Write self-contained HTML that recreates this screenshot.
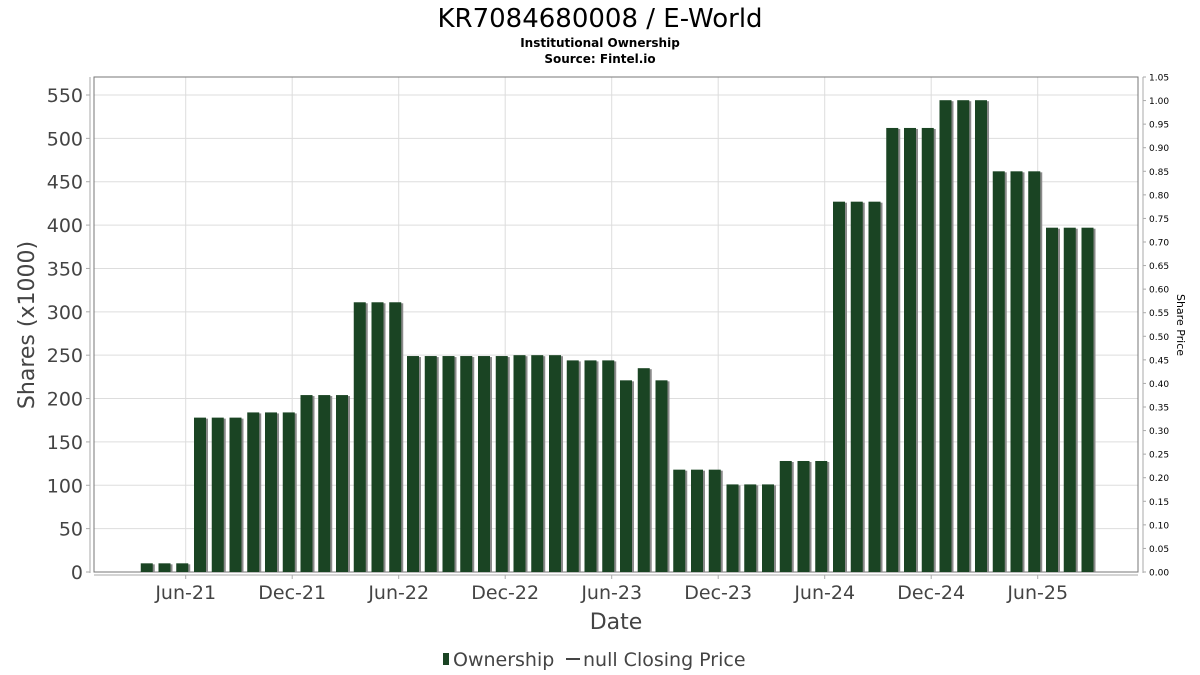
<!DOCTYPE html>
<html><head><meta charset="utf-8"><style>
body{margin:0;background:#fff;}
svg{display:block;font-family:"DejaVu Sans","Liberation Sans",sans-serif;}
</style></head><body>
<svg id="chart" width="1200" height="675" viewBox="0 0 1200 675" xmlns="http://www.w3.org/2000/svg">
<rect width="1200" height="675" fill="#fff"/>
<text x="600" y="27" text-anchor="middle" font-size="26" fill="#000">KR7084680008 / E-World</text>
<text x="600" y="47" text-anchor="middle" font-size="12" font-weight="bold" fill="#000">Institutional Ownership</text>
<text x="600" y="63" text-anchor="middle" font-size="12" font-weight="bold" fill="#000">Source: Fintel.io</text>
<g id="grid"></g>
<rect x="94" y="77" width="1044" height="495" fill="none" stroke="#777" stroke-width="1"/>
<line x1="90" y1="77" x2="90" y2="573" stroke="#aaa"/>
<line x1="1143" y1="77" x2="1143" y2="573" stroke="#aaa"/>
<line x1="94" y1="575" x2="1138" y2="575" stroke="#aaa"/>
<g id="bars"></g>
<g id="axes"></g>
<text transform="translate(34,325) rotate(-90)" text-anchor="middle" font-size="22" fill="#444">Shares (x1000)</text>
<text transform="translate(1177,325) rotate(90)" text-anchor="middle" font-size="11" fill="#000">Share Price</text>
<text x="616" y="629" text-anchor="middle" font-size="22" fill="#444">Date</text>
<g>
<rect x="443" y="653" width="6" height="12" fill="#1a4423"/>
<text x="453" y="666" font-size="19" fill="#444">Ownership</text>
<line x1="566" y1="659" x2="580" y2="659" stroke="#444" stroke-width="2"/>
<text x="583" y="666" font-size="19" fill="#444">null Closing Price</text>
</g>
</svg>
<script>
const months = ["2021-03","2021-04","2021-05","2021-06","2021-07","2021-08","2021-09","2021-10","2021-11","2021-12","2022-01","2022-02","2022-03","2022-04","2022-05","2022-06","2022-07","2022-08","2022-09","2022-10","2022-11","2022-12","2023-01","2023-02","2023-03","2023-04","2023-05","2023-06","2023-07","2023-08","2023-09","2023-10","2023-11","2023-12","2024-01","2024-02","2024-03","2024-04","2024-05","2024-06","2024-07","2024-08","2024-09","2024-10","2024-11","2024-12","2025-01","2025-02","2025-03","2025-04","2025-05","2025-06","2025-07","2025-08"];
const ownership = [10,10,10,178,178,178,184,184,184,204,204,204,311,311,311,249,249,249,249,249,249,250,250,250,244,244,244,221,235,221,118,118,118,101,101,101,128,128,128,427,427,427,512,512,512,544,544,544,462,462,462,397,397,397];
const leftTicks = [0,50,100,150,200,250,300,350,400,450,500,550];
const rightTicks = [0,0.05,0.1,0.15,0.2,0.25,0.3,0.35,0.4,0.45,0.5,0.55,0.6,0.65,0.7,0.75,0.8,0.85,0.9,0.95,1.0,1.05];
const xTickLabels = ["Jun-21","Dec-21","Jun-22","Dec-22","Jun-23","Dec-23","Jun-24","Dec-24","Jun-25"];
const xTickMonths = ["2021-06","2021-12","2022-06","2022-12","2023-06","2023-12","2024-06","2024-12","2025-06"];

const NS="http://www.w3.org/2000/svg";
const Y0=572, YTOP=77;
function yL(v){return Y0 - v*(477/550);}
function yR(v){return Y0 - v*((Y0-YTOP)/1.05);}
function mIdx(s){const [y,m]=s.split("-").map(Number);return (y-2021)*12+(m-6);}
function xM(s){return 185.7 + mIdx(s)*17.75;}
function mk(tag,attrs,parent){const e=document.createElementNS(NS,tag);for(const k in attrs)e.setAttribute(k,attrs[k]);parent.appendChild(e);return e;}
const grid=document.getElementById("grid"), bars=document.getElementById("bars"), axes=document.getElementById("axes");

leftTicks.forEach(v=>{
  const y=yL(v);
  if(v>0){const g=mk("line",{x1:94,x2:1138,y1:y,y2:y,stroke:"#ddd"},grid);
  
  }
  const t=mk("line",{x1:86,x2:90,y1:y,y2:y,stroke:"#aaa"},axes);
  
  
  const l=mk("text",{x:83,y:y+7,"text-anchor":"end","font-size":19,fill:"#444"},axes);
  l.textContent=v;
  
  
});
rightTicks.forEach(v=>{
  const y=yR(v);
  const t=mk("line",{x1:1143,x2:1146,y1:y,y2:y,stroke:"#aaa"},axes);
  
  
  const l=mk("text",{x:1149,y:y+3.5,"font-size":9,fill:"#000"},axes);
  l.textContent=v.toFixed(2);
  
  
});
xTickMonths.forEach((m,i)=>{
  const x=xM(m);
  const g=mk("line",{x1:x,x2:x,y1:77,y2:572,stroke:"#ddd"},grid);
  
  
  const t=mk("line",{x1:x,x2:x,y1:575,y2:579,stroke:"#aaa"},axes);
  
  
  const l=mk("text",{x:x,y:599,"text-anchor":"middle","font-size":19,fill:"#444"},axes);
  l.textContent=xTickLabels[i];
  
  
});
months.forEach((m,i)=>{
  const x=xM(m)+8.3, y=yL(ownership[i]), h=Y0-y;
  const s=mk("rect",{x:x+2,y:y+1,width:12,height:h-1,fill:"#8a8a8a"},bars);
  
  
  const b=mk("rect",{x:x,y:y,width:12,height:h,fill:"#1a4423"},bars);
  
  
});
</script>
</body></html>
